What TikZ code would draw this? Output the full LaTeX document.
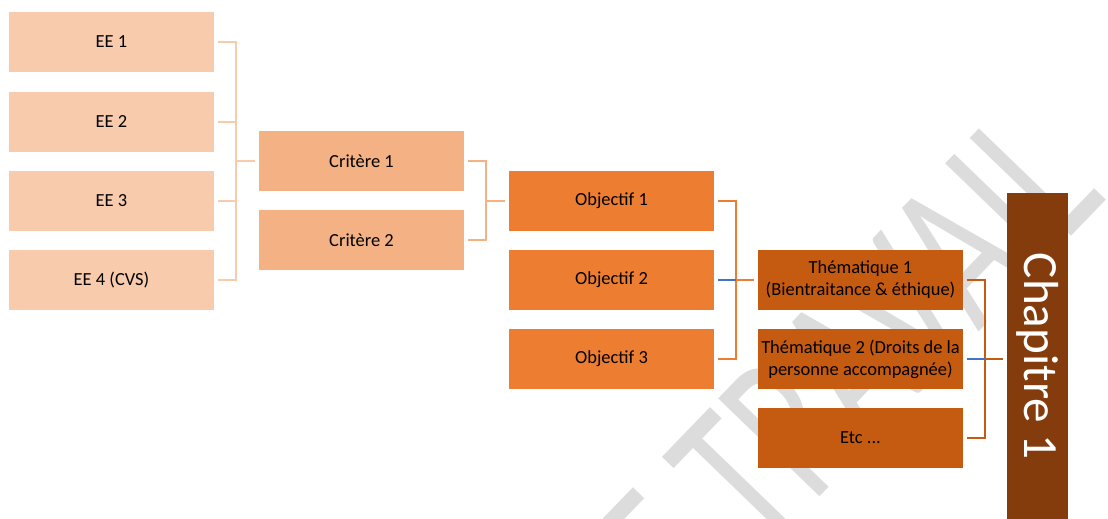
\documentclass[tikz,border=0pt]{standalone}
\usepackage{fontspec}
\setmainfont{Carlito}
\usepackage{graphicx}
\usepackage{tikz}
\usetikzlibrary{calc}
\definecolor{eefill}{HTML}{F8CBAD}
\definecolor{critfill}{HTML}{F4B183}
\definecolor{objfill}{HTML}{ED7D31}
\definecolor{themfill}{HTML}{C55A11}
\definecolor{chapfill}{HTML}{843C0C}
\definecolor{stubblue}{HTML}{4472C4}
\definecolor{wmgray}{HTML}{DCDCDC}
\tikzset{
  box/.style={minimum width=4.1cm, minimum height=1.2cm, inner sep=1pt, align=center,
    font=\fontsize{10.5}{12.5}\selectfont, text=black},
  eebox/.style={box, fill=eefill},
  critbox/.style={box, fill=critfill},
  objbox/.style={box, fill=objfill},
  thembox/.style={box, fill=themfill},
  chapbox/.style={fill=chapfill, text=white, rotate=-90, minimum width=6.52cm,
    minimum height=1.22cm, font=\fontsize{28}{30}\selectfont},
  stub/.style={line width=1.2pt, shorten <=0.08cm},
  tolink/.style={line width=1.2pt, shorten >=0.08cm},
  wmark/.style={text=wmgray, inner sep=0pt, font=\fontsize{125}{125}\selectfont},
}

\begin{document}
\begin{tikzpicture}[x=0.02cm, y=-0.02cm]
  \useasboundingbox (0,0) rectangle (1108,519);

  % watermark, behind everything
  \begin{scope}
    \clip (0,0) rectangle (1108,519);
    \node[wmark, anchor=base west, rotate=46] (wm) at (624,700) {\scalebox{0.68}[1]{DE TRAVAIL}};
  \end{scope}

  \node[eebox] (ee1) at (111.5,42)  {EE 1};
  \node[eebox] (ee2) at (111.5,122) {EE 2};
  \node[eebox] (ee3) at (111.5,201) {EE 3};
  \node[eebox] (ee4) at (111.5,280) {EE 4 (CVS)};

  \node[critbox] (crit1) at (361.5,161) {Critère 1};
  \node[critbox] (crit2) at (361.5,240) {Critère 2};

  \node[objbox] (obj1) at (611.5,201) {Objectif 1};
  \node[objbox] (obj2) at (611.5,280) {Objectif 2};
  \node[objbox] (obj3) at (611.5,359) {Objectif 3};

  \node[thembox] (th1) at (860.5,280) {Thématique 1\\(Bientraitance \& éthique)};
  \node[thembox] (th2) at (860.5,359) {Thématique 2 (Droits de la\\personne accompagnée)};
  \node[thembox] (th3) at (860.5,438) {Etc ...};

  \node[chapbox] (chap) at (1037.5,356) {Chapitre 1};

  \coordinate (j1) at (236,161);
  \coordinate (j2) at (486,201);
  \coordinate (j3) at (736,280);
  \coordinate (j4) at (985,359);

  % EE -> critere
  \foreach \n in {ee1,ee2,ee3,ee4}
    \draw[stub, eefill] (\n.east) -| (j1);
  \draw[tolink, eefill] (j1) -- (crit1);

  % critere -> objectif
  \foreach \n in {crit1,crit2}
    \draw[stub, critfill] (\n.east) -| (j2);
  \draw[tolink, critfill] (j2) -- (obj1);

  % objectif -> thematique
  \draw[stub, objfill] (obj1.east) -| (j3);
  \draw[stub, objfill] (obj3.east) -| (j3);
  \draw[stub, stubblue] (obj2.east) -- (j3);
  \draw[tolink, objfill] (j3) -- (th1);

  % thematique -> chapitre
  \draw[stub, themfill] (th1.east) -| (j4);
  \draw[stub, themfill] (th3.east) -| (j4);
  \draw[stub, stubblue] (th2.east) -- (j4);
  \draw[tolink, themfill] (j4) -- (j4 -| chap.south);
\end{tikzpicture}
\end{document}
